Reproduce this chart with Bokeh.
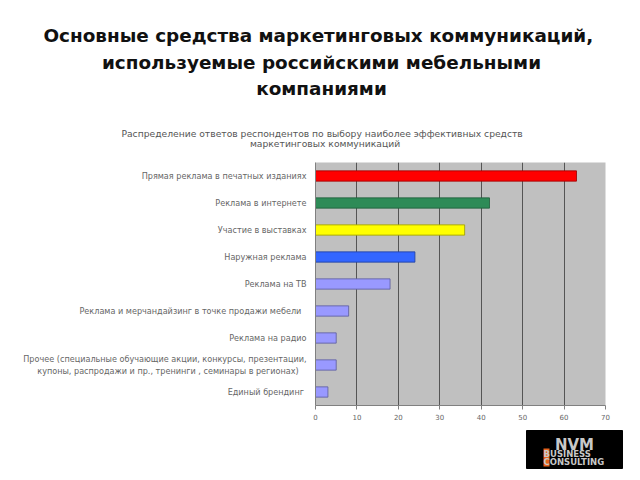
from bokeh.plotting import figure
from bokeh.layouts import column
from bokeh.models import FactorRange, FixedTicker, Range1d
from bokeh.core.properties import value
from bokeh.embed import file_html
from bokeh.resources import INLINE

main_title = ["Основные средства маркетинговых  коммуникаций,",
              "используемые российскими мебельными",
              "компаниями"]
chart_title = ["Распределение ответов респондентов  по  выбору наиболее  эффективных средств",
               "маркетинговых  коммуникаций"]
categories = [
    "Прямая реклама в печатных изданиях",
    "Реклама в интернете",
    "Участие в выставках",
    "Наружная реклама",
    "Реклама на ТВ",
    "Реклама и мерчандайзинг  в  точке продажи мебели",
    "Реклама на радио",
    "Прочее (специальные обучающие акции, конкурсы, презентации,\nкупоны,  распродажи и пр.,  тренинги , семинары в  регионах)",
    "Единый  брендинг",
]
values = [63, 42, 36, 24, 18, 8, 5, 5, 3]
colors = ["#ff0000", "#2e8b57", "#ffff00", "#3366ff", "#9999ff",
          "#9999ff", "#9999ff", "#9999ff", "#9999ff"]
outlines = ["#990000", "#1e5c3a", "#999900", "#1f3d99", "#5c5c99",
            "#5c5c99", "#5c5c99", "#5c5c99", "#5c5c99"]
x_ticks = [0, 10, 20, 30, 40, 50, 60, 70]
logo_lines = ["BUSINESS", "CONSULTING"]

W = 640
TOP_H, MID_H, BOT_H = 155, 270, 55


def blank(h):
    f = figure(width=W, height=h, output_backend="svg", toolbar_location=None,
               x_range=Range1d(0, W), y_range=Range1d(h, 0),
               x_axis_type=None, y_axis_type=None,
               min_border=0, min_border_left=0, min_border_right=0,
               min_border_top=0, min_border_bottom=0, frame_align=False)
    f.outline_line_color = None
    f.grid.grid_line_color = None
    f.background_fill_color = "white"
    return f


# ---- top: titles ----
top = blank(TOP_H)
top.text(x=[321] * len(main_title), y=[35 + i * 26.5 for i in range(len(main_title))],
         text=main_title, text_align="center", text_baseline="middle",
         text_font=value("DejaVu Sans"), text_font_style="bold",
         text_font_size="18.4px", text_color="#111111")
top.text(x=[326] * len(chart_title), y=[133 + i * 10 for i in range(len(chart_title))],
         text=chart_title, text_align="center", text_baseline="middle",
         text_font=value("DejaVu Sans"), text_font_size="9.2px",
         text_color="#555555")

# ---- middle: chart ----
FL, FR = 315, 605
p = figure(width=W, height=MID_H, output_backend="svg", toolbar_location=None,
           y_range=FactorRange(*reversed(categories)), x_range=(0, 70),
           min_border_left=FL, min_border_right=W - FR,
           min_border_top=7, min_border_bottom=20, frame_align=False)
p.outline_line_color = None
p.background_fill_color = "#c0c0c0"
p.border_fill_color = "white"

p.hbar(y=categories, right=values, left=0, height=0.38,
       fill_color=colors, line_color=outlines, line_width=0.8)

p.xgrid.grid_line_color = "#555555"
p.xgrid.grid_line_width = 1
p.ygrid.grid_line_color = None
p.xaxis.ticker = FixedTicker(ticks=x_ticks)
p.xaxis.minor_tick_line_color = None
p.xaxis.axis_line_color = "#808080"
p.xaxis.major_tick_line_color = "#808080"
p.xaxis.major_tick_in = 0
p.xaxis.major_tick_out = 4
p.xaxis.major_label_standoff = 4
p.xaxis.major_label_text_font = "DejaVu Sans"
p.xaxis.major_label_text_font_size = "7px"
p.xaxis.major_label_text_color = "#666666"
p.yaxis.axis_line_color = "#808080"
p.yaxis.major_tick_line_color = None
p.yaxis.major_label_text_font = "DejaVu Sans"
p.yaxis.major_label_text_font_size = "8.1px"
p.yaxis.major_label_text_color = "#666666"
p.yaxis.major_label_standoff = 3

# ---- bottom: logo ----
bot = blank(BOT_H)
bot.quad(left=[526], right=[622], top=[5], bottom=[43], fill_color="black", line_color="black")
bot.quad(left=[543], right=[549], top=[23], bottom=[41], fill_color="#e8631c", line_color=None)
bot.text(x=[574], y=[19], text=["NVM"], text_align="center", text_baseline="middle",
         text_font=value("DejaVu Sans"), text_font_style="bold",
         text_font_size="15px", text_color="#c8c8c8")
bot.text(x=[543, 543], y=[28.5, 36], text=logo_lines, text_align="left",
         text_baseline="middle", text_font=value("DejaVu Sans"),
         text_font_style="bold", text_font_size="8.5px", text_color="#c8c8c8")

layout = column(top, p, bot, spacing=0)
open("out.html", "w").write(file_html(layout, INLINE))
